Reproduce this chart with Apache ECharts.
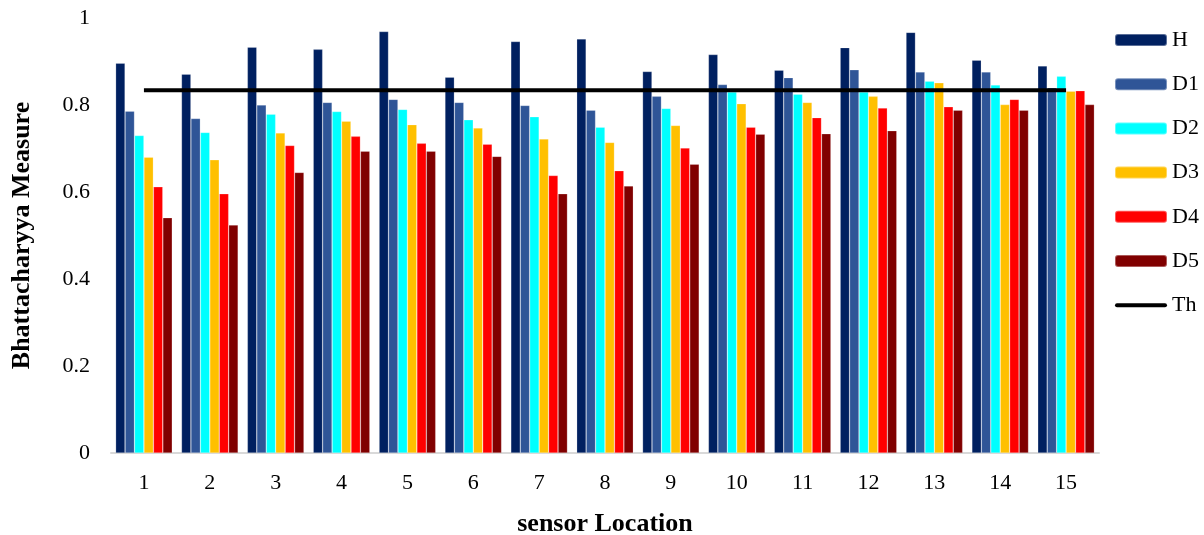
<!DOCTYPE html>
<html>
<head>
<meta charset="utf-8">
<title>Bhattacharyya Measure by sensor Location</title>
<script src="https://cdn.jsdelivr.net/npm/echarts@6/dist/echarts.min.js"></script>
<style>
  html, body { margin: 0; padding: 0; background: #ffffff; }
  #chart { width: 1204px; height: 535px; }
</style>
</head>
<body>
<div id="chart"></div>
<script>
// Sensor locations along the x axis
const locations = ['1','2','3','4','5','6','7','8','9','10','11','12','13','14','15'];

// Bhattacharyya measure per location: healthy state and damage cases D1..D5
const H  = [0.896, 0.871, 0.933, 0.928, 0.969, 0.864, 0.946, 0.952, 0.877, 0.916, 0.880, 0.932, 0.967, 0.903, 0.890];
const D1 = [0.786, 0.769, 0.800, 0.806, 0.813, 0.806, 0.799, 0.788, 0.820, 0.847, 0.863, 0.881, 0.876, 0.876, 0.840];
const D2 = [0.730, 0.737, 0.779, 0.785, 0.790, 0.766, 0.773, 0.749, 0.792, 0.830, 0.825, 0.830, 0.855, 0.846, 0.866];
const D3 = [0.680, 0.674, 0.736, 0.763, 0.755, 0.747, 0.722, 0.714, 0.753, 0.803, 0.806, 0.820, 0.851, 0.801, 0.832];
const D4 = [0.612, 0.596, 0.707, 0.728, 0.712, 0.710, 0.638, 0.649, 0.701, 0.749, 0.771, 0.793, 0.796, 0.813, 0.833];
const D5 = [0.541, 0.524, 0.645, 0.694, 0.694, 0.682, 0.596, 0.614, 0.664, 0.733, 0.734, 0.741, 0.788, 0.788, 0.801];

// Threshold level
const thresholdValue = 0.834;
const Th = locations.map(() => thresholdValue);

// Y axis tick values
const yTicks = [0, 0.2, 0.4, 0.6, 0.8, 1];

const barSeries = [
  { name: 'H',  data: H,  color: '#002060' },
  { name: 'D1', data: D1, color: '#2F5597' },
  { name: 'D2', data: D2, color: '#00FFFF' },
  { name: 'D3', data: D3, color: '#FFC000' },
  { name: 'D4', data: D4, color: '#FF0000' },
  { name: 'D5', data: D5, color: '#800000' }
];

const serif = 'Liberation Serif, "Times New Roman", serif';

// Thin bar with rounded ends, used as the legend mark of the threshold line
const lineIcon = 'path://M2,0H50A2,2 0 0 1 50,4H2A2,2 0 0 1 2,0Z';

const chart = echarts.init(document.getElementById('chart'), null, { renderer: 'canvas' });

const series = barSeries.map(s => ({
  name: s.name,
  type: 'bar',
  data: s.data,
  barGap: '0%',
  barCategoryGap: '14%',
  itemStyle: { color: s.color, borderColor: 'rgba(255,255,255,0.35)', borderWidth: 0.6 },
  emphasis: { disabled: true },
  z: 2
}));

series.push({
  name: 'Th',
  type: 'line',
  data: Th,
  symbol: 'none',
  lineStyle: { color: '#000000', width: 4 },
  itemStyle: { color: '#000000' },
  emphasis: { disabled: true },
  z: 5
});

chart.setOption({
  animation: false,
  backgroundColor: '#ffffff',
  grid: { left: 111, right: 105, top: 18, bottom: 82, containLabel: false, outerBoundsMode: 'none' },
  legend: {
    orient: 'vertical',
    left: 1109,
    top: 24,
    itemWidth: 52,
    itemHeight: 12,
    itemGap: 22.2,
    symbolKeepAspect: true,
    data: ['H', 'D1', 'D2', 'D3', 'D4', 'D5', { name: 'Th', icon: lineIcon }],
    textStyle: { fontFamily: serif, fontSize: 22, color: '#000000', lineHeight: 20 }
  },
  xAxis: {
    type: 'category',
    data: locations,
    name: 'sensor Location',
    nameLocation: 'middle',
    nameGap: 58,
    nameTextStyle: { fontFamily: serif, fontSize: 26, fontWeight: 'bold', color: '#000000' },
    axisLine: { show: true, lineStyle: { color: '#d9d9d9', width: 2 } },
    axisTick: { show: false },
    axisLabel: { fontFamily: serif, fontSize: 22, color: '#000000', margin: 19 },
    splitLine: { show: false }
  },
  yAxis: {
    type: 'value',
    min: 0,
    max: 1,
    interval: 0.2,
    name: 'Bhattacharyya Measure',
    nameLocation: 'middle',
    nameGap: 76,
    nameRotate: 90,
    nameTextStyle: { fontFamily: serif, fontSize: 26, fontWeight: 'bold', color: '#000000' },
    axisLine: { show: false },
    axisTick: { show: false },
    splitLine: { show: false },
    axisLabel: {
      fontFamily: serif,
      fontSize: 22,
      color: '#000000',
      margin: 21,
      formatter: v => {
        const t = yTicks.find(k => Math.abs(k - v) < 1e-9);
        return t === undefined ? '' : String(+t.toFixed(1));
      }
    }
  },
  series: series
});
</script>
</body>
</html>
